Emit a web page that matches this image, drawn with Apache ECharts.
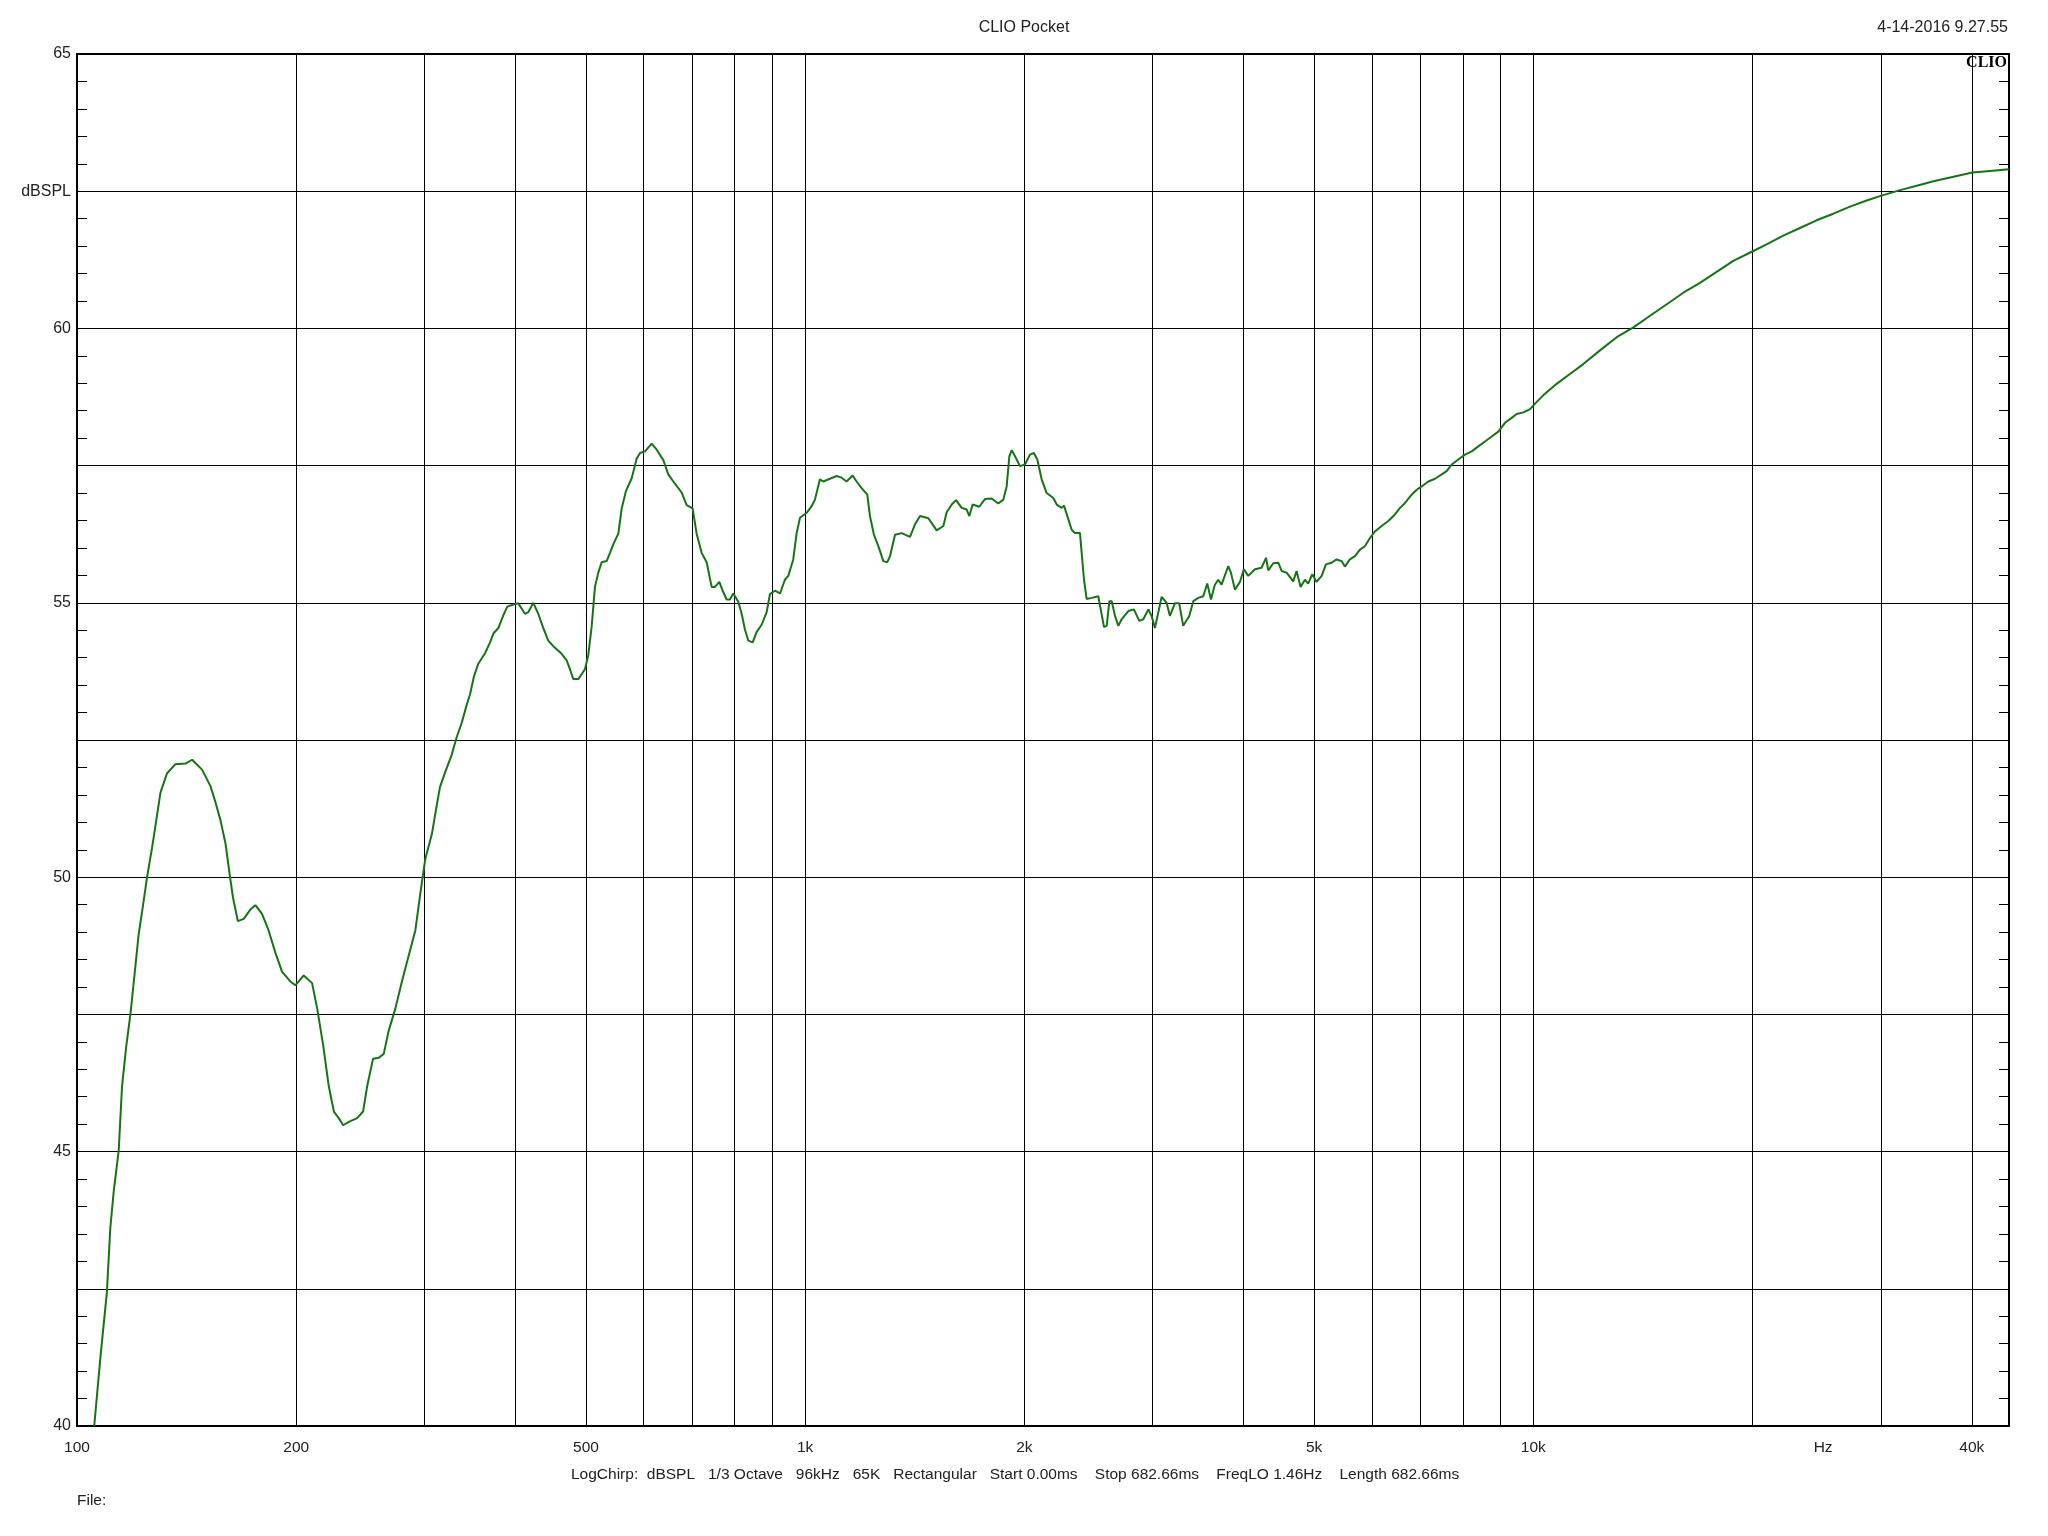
<!DOCTYPE html>
<html><head><meta charset="utf-8">
<script src="https://cdn.jsdelivr.net/npm/echarts@6/dist/echarts.min.js"></script>
<style>html,body{margin:0;padding:0;background:#fff}#c{width:2048px;height:1536px}</style>
</head><body><div id="c"></div>
<script>
// Frequency (Hz) and level (dB SPL)
const freqHz = [105.6,107.7,109.9,111.1,112.3,114.1,115.3,116.9,118.4,119.9,121.5,123.1,124.8,126.8,128.5,130.2,132.9,136.5,140.9,143.9,148.5,152.5,154.9,157.4,159.9,162.1,163.8,166.3,169.4,173.0,175.8,179.5,183.3,187.3,191.2,196.3,199.5,204.8,210.3,213.7,217.8,221.7,225.3,228.8,232.0,236.2,242.5,247.1,250.3,255.0,259.7,263.8,267.9,273.7,279.5,285.4,291.5,296.1,300.8,307.2,312.1,
315.1,320.1,327.0,332.2,337.5,342.9,346.5,350.9,355.7,363.4,369.2,373.1,379.0,385.0,389.9,397.4,403.6,412.3,416.7,423.3,430.0,436.9,443.8,450.9,463.0,470.4,475.3,480.4,488.0,498.4,503.7,509.1,514.4,519.9,525.4,533.8,539.5,545.2,553.9,559.8,567.5,577.8,587.0,593.2,602.6,615.5,625.3,638.6,648.6,662.5,676.6,687.4,700.5,709.5,720.8,732.3,744.0,751.8,762.2,770.3,780.1,788.3,796.7,809.4,818.0,826.7,835.5,847.1,857.8,871.4,885.4,894.7,908.9,923.5,
938,948,963,973.4,983.8,1004.7,1020.6,1031.4,1047.8,1058.9,1081.4,1104.5,1122.1,1140,1162,1176.6,1195.4,1217,1227.4,1243,1262.8,1280.3,1296.6,1307.7,1328.5,1356.9,1393,1415.3,1437.9,1476.2,1515.7,1548,1564.4,1589.5,1611.2,1640.4,1666.5,1680.7,1698.2,1734.2,1765.6,1803.4,1841.6,1871.1,1891,1907.2,1921.3,1941.7,1972.4,2003.5,2035.6,2061.5,2083.4,2112.4,2146,2192,2215.2,2250.4,2267,2291,2322.7,2347,2384.5,2397.2,2415,2435,2474,2526.6,2546,2572.7,2594.7,2616.5,2636,2664,2692,2720,2778,2828,2876,2913,2959.7,2991,3022,3054,3087,3136,3169,3219,3263,3305,3369,3412,3466,
3521,3566,3608,3653,3692,3731,3811,3843,3892,3954,4004,4059,4146,4235,4294,4325,4394,4464,4511,4583,4680,4730,4790,4857,4907,4970,5039,5120,5190,5283,5367,5453,5510,5598,5688,5780,5871,5965,6060,6189,6321,6456,6560,6664,6806,6915,7025,7175,7328,7484,7603,7725,7888,8056,8228,8403,8582,8765,8952,9143,9338,9487,9690,9896,10054,
10318,10764,11226,11711,12347,13016,13721,14464,15248,16068,16936,17853,18818,20048,20909,22039,23233,24490,25822,27220,28694,30063,31890,33614,35435,37356,40083,42378,45000];
const splDb = [40.0,41.26,42.43,43.6,44.27,45.02,46.19,46.94,47.5,48.2,48.95,49.45,50.0,50.54,51.04,51.54,51.89,52.06,52.07,52.14,51.96,51.66,51.37,51.04,50.62,50.04,49.62,49.2,49.24,49.41,49.49,49.33,49.03,48.62,48.28,48.1,48.03,48.21,48.07,47.61,46.94,46.19,45.73,45.61,45.48,45.54,45.61,45.73,46.19,46.69,46.71,46.78,47.2,47.61,48.11,48.57,49.03,49.7,50.33,50.79,51.33,
51.64,51.9,52.23,52.55,52.81,53.14,53.33,53.66,53.89,54.08,54.28,54.44,54.54,54.77,54.93,54.97,54.99,54.8,54.83,55.0,54.8,54.54,54.31,54.21,54.07,53.95,53.79,53.61,53.61,53.79,54.05,54.57,55.29,55.55,55.74,55.76,55.91,56.07,56.26,56.72,57.04,57.27,57.63,57.73,57.76,57.9,57.79,57.6,57.34,57.17,57.01,56.78,56.72,56.26,55.91,55.74,55.29,55.29,55.38,55.22,55.06,55.06,55.17,55.02,54.8,54.51,54.31,54.28,54.47,54.6,54.83,55.16,55.22,55.17,
55.42,55.49,55.79,56.27,56.55,56.64,56.76,56.88,57.25,57.21,57.26,57.31,57.28,57.21,57.32,57.21,57.09,56.97,56.58,56.24,56.0,55.76,55.74,55.85,56.24,56.27,56.2,56.43,56.58,56.54,56.32,56.4,56.65,56.79,56.87,56.73,56.7,56.58,56.79,56.75,56.89,56.9,56.81,56.88,57.12,57.67,57.78,57.67,57.49,57.52,57.7,57.73,57.61,57.25,57.0,56.91,56.79,56.73,56.77,56.58,56.33,56.27,56.27,55.91,55.42,55.07,55.09,55.12,54.88,54.56,54.58,55.03,55.03,54.76,54.58,54.7,54.85,54.88,54.67,54.7,54.88,54.76,54.54,54.82,55.11,55.0,54.76,54.99,54.99,54.58,54.76,55.03,55.09,
55.12,55.35,55.06,55.33,55.42,55.33,55.67,55.55,55.24,55.38,55.61,55.49,55.61,55.64,55.82,55.59,55.72,55.73,55.58,55.55,55.39,55.58,55.29,55.42,55.35,55.52,55.38,55.49,55.7,55.73,55.79,55.76,55.66,55.79,55.85,55.97,56.03,56.18,56.3,56.4,56.49,56.61,56.73,56.82,56.97,57.06,57.12,57.21,57.26,57.34,57.4,57.52,57.61,57.7,57.76,57.85,57.94,58.03,58.12,58.28,58.37,58.44,58.47,58.53,58.63,
58.78,58.99,59.17,59.35,59.6,59.84,60.02,60.23,60.44,60.65,60.83,61.03,61.23,61.41,61.53,61.69,61.83,61.97,62.09,62.22,62.33,62.42,62.52,62.6,62.68,62.75,62.84,62.87,62.9];

// Axis definitions
const freqMin = 100, freqMax = 45000;
const gridFreqs = [100,200,300,400,500,600,700,800,900,1000,2000,3000,4000,5000,6000,7000,8000,9000,10000,20000,30000,40000];
const labelFreqs = [100,200,500,1000,2000,5000,10000,25000,40000];
const labelTexts = ['100','200','500','1k','2k','5k','10k','Hz','40k'];
const yMin = 40, yMax = 65, yStep = 2.5;
const yUnitAt = 62.5, yUnitText = 'dBSPL';

const titleText = 'CLIO Pocket';
const dateText = '4-14-2016 9.27.55';
const brandText = 'CLIO';
const infoText = 'LogChirp:  dBSPL   1/3 Octave   96kHz   65K   Rectangular   Start 0.00ms    Stop 682.66ms    FreqLO 1.46Hz    Length 682.66ms';
const fileText = 'File:';

const lg = Math.log10;
const seriesData = freqHz.map((f, i) => [lg(f), splDb[i]]);

const FONT = '"Liberation Sans", Arial, sans-serif';
const chart = echarts.init(document.getElementById('c'), null, {renderer: 'canvas'});
const yAxisCommon = {
  type: 'value', min: yMin, max: yMax, interval: yStep,
  axisLine: {show: false},
  axisTick: {show: true, inside: true, length: 10, lineStyle: {color: '#000', width: 1}},
  minorTick: {show: true, splitNumber: 5, length: 10, lineStyle: {color: '#000', width: 1}},
};
chart.setOption({
  animation: false,
  backgroundColor: '#fff',
  grid: {left: 77, top: 54, width: 1932, height: 1372, show: true, borderColor: '#000', borderWidth: 2, backgroundColor: 'transparent', containLabel: false},
  xAxis: {
    type: 'value', min: lg(freqMin), max: lg(freqMax),
    axisLine: {show: false},
    axisTick: {show: false, customValues: gridFreqs.map(lg)},
    splitLine: {show: true, lineStyle: {color: '#000', width: 1}},
    axisLabel: {
      customValues: labelFreqs.map(lg), margin: 14,
      fontFamily: FONT, fontSize: 15.5, color: '#222',
      formatter: v => { for (let i = 0; i < labelFreqs.length; i++) if (Math.abs(lg(labelFreqs[i]) - v) < 1e-6) return labelTexts[i]; return ''; }
    }
  },
  yAxis: [
    Object.assign({}, yAxisCommon, {
      position: 'left',
      splitLine: {show: true, lineStyle: {color: '#000', width: 1}},
      axisLabel: {margin: 6, fontFamily: FONT, fontSize: 16, color: '#222',
        formatter: v => Math.abs(v - yUnitAt) < 1e-6 ? yUnitText : (Math.abs(v % 5) < 1e-6 ? String(v) : '')}
    }),
    Object.assign({}, yAxisCommon, {
      position: 'right',
      splitLine: {show: false},
      axisLabel: {show: false}
    })
  ],
  series: [{
    type: 'line', data: seriesData, showSymbol: false, symbol: 'none',
    lineStyle: {color: '#157515', width: 2}, z: 5
  }],
  graphic: [
    {type: 'text', left: 'center', top: 20, style: {text: titleText, font: '16px ' + FONT, fill: '#222'}},
    {type: 'text', right: 40, top: 20, style: {text: dateText, font: '16px ' + FONT, fill: '#222'}},
    {type: 'text', right: 41, top: 55, z: 10, style: {text: brandText, font: 'bold 16px "Liberation Serif", "Times New Roman", serif', fill: '#000'}},
    {type: 'text', left: 571, top: 1467, style: {text: infoText, font: '15.5px ' + FONT, fill: '#222'}},
    {type: 'text', left: 77, top: 1493, style: {text: fileText, font: '15.5px ' + FONT, fill: '#222'}}
  ]
});
</script></body></html>
